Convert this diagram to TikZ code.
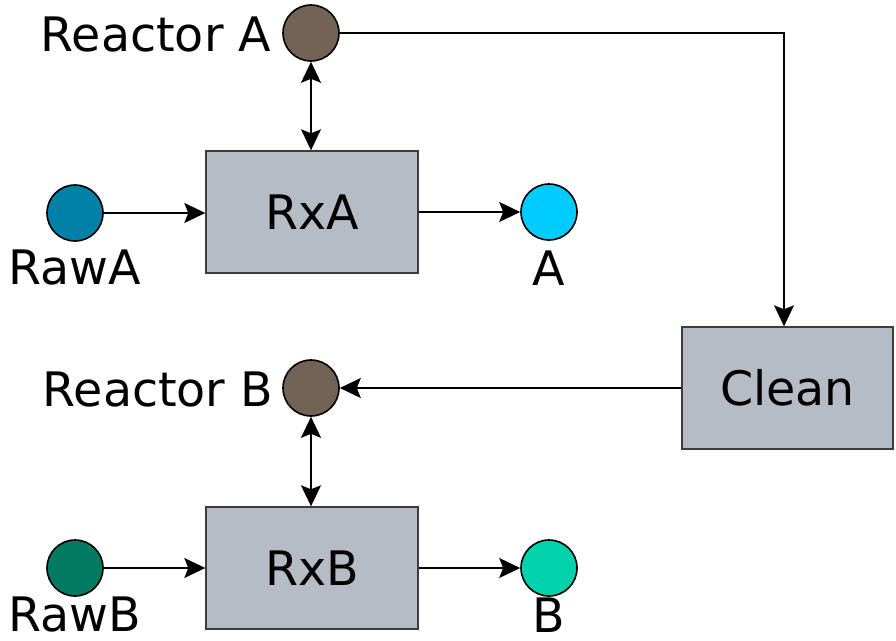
\documentclass[tikz,border=0pt]{standalone}
\usepackage{fontspec}
\setmainfont{DejaVu Sans}
\usetikzlibrary{arrows.meta}

\definecolor{reactorbrown}{RGB}{114,99,86}
\definecolor{rawAcol}{RGB}{0,128,166}
\definecolor{prodAcol}{RGB}{0,204,255}
\definecolor{rawBcol}{RGB}{0,122,96}
\definecolor{prodBcol}{RGB}{0,210,172}
\definecolor{boxfill}{RGB}{182,188,198}
\definecolor{boxline}{RGB}{60,60,60}

\tikzset{
  unitbox/.style={draw=boxline, line width=1.4pt, fill=boxfill,
    minimum width=212pt, minimum height=122pt, inner sep=0pt,
    font=\fontsize{47.5}{52}\selectfont},
  port/.style={circle, draw=black, line width=1.6pt, minimum size=56pt, inner sep=0pt},
  tag/.style={font=\fontsize{47.5}{52}\selectfont, inner sep=0pt},
  flow/.style={line width=1.4pt, -{Stealth[length=21pt,width=20pt,inset=4pt]}},
  link/.style={line width=1.4pt, {Stealth[length=21pt,width=20pt,inset=4pt]}-{Stealth[length=21pt,width=20pt,inset=4pt]}}
}

\begin{document}
\begin{tikzpicture}[x=1pt,y=-1pt]
  \useasboundingbox (0,0) rectangle (896,640);

  % process units
  \node[unitbox] (rxa) at (312,212) {RxA};
  \node[unitbox] (rxb) at (312,568) {RxB};
  \node[unitbox, minimum width=211pt] (clean) at (787.5,388) {Clean};

  % reactor vessels
  \node[port, fill=reactorbrown] (reactA) at (311,33) {};
  \node[port, fill=reactorbrown] (reactB) at (311,388) {};

  % feeds and products
  \node[port, fill=rawAcol] (rawA) at (75,213) {};
  \node[port, fill=prodAcol] (prodA) at (549,212) {};
  \node[port, fill=rawBcol] (rawB) at (75,568) {};
  \node[port, fill=prodBcol] (prodB) at (549,568) {};

  % labels
  \node[tag] (tReactA) at (156,35) {Reactor A};
  \node[tag] (tReactB) at (158,390) {Reactor B};
  \node[tag] (tRawA) at (75,268) {RawA};
  \node[tag] (tProdA) at (549,268) {A};
  \node[tag] (tRawB) at (75,615) {RawB};
  \node[tag] (tProdB) at (549,615) {B};

  % streams
  \draw[flow] (rawA) -- (rxa.west |- rawA);
  \draw[flow] (rxa.east |- prodA) -- (prodA);
  \draw[flow] (rawB) -- (rxb.west |- rawB);
  \draw[flow] (rxb.east |- prodB) -- (prodB);
  \draw[link] (reactA) -- (rxa.north -| reactA);
  \draw[link] (reactB) -- (rxb.north -| reactB);
  \coordinate (bend) at (784,33);
  \draw[flow] (reactA.east) -- (bend) -- (bend |- clean.north);
  \draw[flow] (clean.west) -- (reactB.east);
\end{tikzpicture}
\end{document}
